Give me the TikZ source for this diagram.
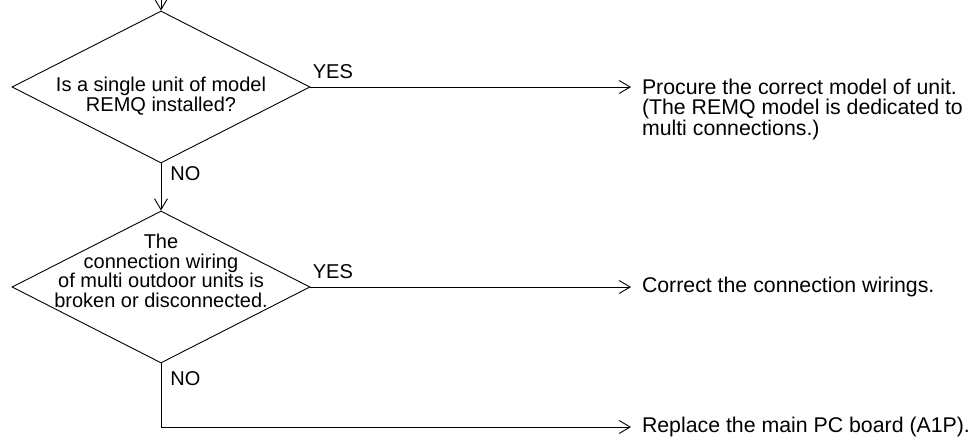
\documentclass[tikz,border=0pt]{standalone}
\usepackage{fontspec}
\setmainfont{Liberation Sans}
\usetikzlibrary{shapes.geometric, arrows.meta}
\begin{document}
\begin{tikzpicture}[x=1pt, y=-1pt, line width=0.9pt,
    >={Straight Barb[length=11pt, width=13pt]},
    every node/.style={font=\fontsize{20}{19.5}\selectfont},
    decision/.style={draw, diamond, inner sep=0pt, minimum width=298pt, minimum height=152pt},
    answer/.style={inner sep=0pt},
    result/.style={anchor=west, inner sep=0pt, outer xsep=11pt, align=left,
        font=\fontsize{21.3}{19.5}\selectfont}]

    % page frame
    \useasboundingbox (0,0) rectangle (980,441);

    % first question
    \node[decision] (q1) at (161,87) {};
    \node[align=center] (t1) at ([yshift=-9pt]q1.center) {Is a single unit of model\\REMQ installed?};

    % second question
    \node[decision] (q2) at (161,287) {};
    \node[align=center] (t2) at ([yshift=16pt]q2.center) {The\\connection wiring\\of multi outdoor units is\\broken or disconnected.};

    % results
    \node[result, anchor=north west] (r1) at (631,79) {Procure the correct model of unit.\\(The REMQ model is dedicated to\\multi connections.)};
    \node[result] (r2) at (631,287) {Correct the connection wirings.};
    \node[result] (r3) at (631,427) {Replace the main PC board (A1P).};

    % connectors
    \coordinate (in) at (161,0);
    \draw[->] (in) -- (q1.north);
    \draw[->] (q1.east) -- (q1.east -| r1.west)
        node[answer, pos=0, anchor=south west, xshift=2pt, yshift=8pt] (yes1) {YES};
    \draw[->] (q1.south) -- (q2.north)
        node[answer, pos=0, anchor=north west, xshift=9pt, yshift=-3pt] (no1) {NO};
    \draw[->] (q2.east) -- (r2.west)
        node[answer, pos=0, anchor=south west, xshift=2pt, yshift=8pt] (yes2) {YES};
    \draw[->] (q2.south) |- (r3.west);
    \node[answer, anchor=north west, xshift=9pt, yshift=-8pt] (no2) at (q2.south) {NO};
\end{tikzpicture}
\end{document}
